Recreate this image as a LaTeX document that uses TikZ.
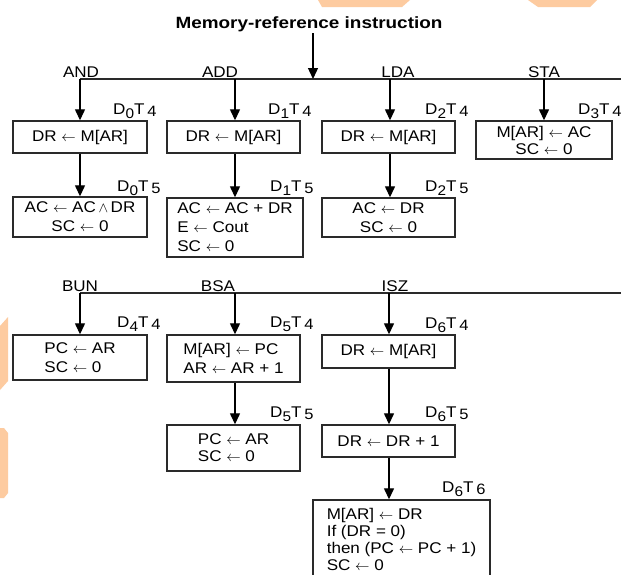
\documentclass[tikz,border=0pt]{standalone}
\usepackage{fontspec}
\setmainfont{Liberation Sans}[FakeStretch=1.1]
\newfontfamily\titlef{Liberation Sans}[FakeStretch=1.16]
\usetikzlibrary{arrows.meta}
\definecolor{wm}{HTML}{FDCBA0}
\definecolor{ln}{HTML}{2A2A2A}
\newcommand{\wedgech}{\ensuremath{\wedge}}
\newcommand{\lar}{\ensuremath{\leftarrow}}
\newcommand{\dtl}[2]{D\raisebox{-4pt}{\fontsize{14}{14}\selectfont #1}T\hspace{3pt}\raisebox{-2.5pt}{\fontsize{15}{15}\selectfont #2}}
\tikzset{
  box/.style={draw=ln, line width=1.4pt, inner sep=0pt, align=center, text=black,
              font=\fontsize{15.5}{19}\selectfont},
  boxl/.style={box, align=left},
  boxs/.style={box, align=left, font=\fontsize{15.5}{17}\selectfont},
  lbl/.style={anchor=base west, inner sep=0pt, font=\fontsize{15.5}{15.5}\selectfont},
  opl/.style={anchor=base, inner sep=0pt, font=\fontsize{15.5}{15.5}\selectfont},
  bus/.style={draw=ln, line width=1.3pt},
  arr/.style={draw=black, line width=1.3pt, -{Triangle[width=10pt,length=11pt]}},
  wmark/.style={fill=wm, draw=none}
}
\begin{document}
\begin{tikzpicture}[x=1pt,y=-1pt]
\useasboundingbox (0,0) rectangle (621,574);
\clip (0,0) rectangle (621,574);
\fill[white] (0,0) rectangle (621,574);
% watermark fragments
\fill[wmark] (318,0) -- (410,0) -- (402,7) -- (322,7) -- cycle;
\fill[wmark] (528,0) -- (597,0) -- (590,7) -- (538,7) -- cycle;
\fill[wmark] (0,326) -- (8,317) -- (8,381) -- (0,390) -- cycle;
\fill[wmark] (0,428) -- (4,428) -- (8,433) -- (8,493) -- (4,498) -- (0,498) -- cycle;

% title
\node[anchor=base, inner sep=0pt, font=\titlef\bfseries\fontsize{16.3}{18}\selectfont] (title) at (309,28) {Memory-reference instruction};

% first bus
\coordinate (h1l) at (80,79);
\coordinate (h1r) at (621,79);
\coordinate (h1t) at (313,79);
\coordinate (t0) at (313,33);
\draw[bus] (h1l) -- (h1r);
\draw[arr] (t0) -- (h1t);

\node[opl] (opand) at (81,77) {AND};
\node[opl] (opadd) at (220,77) {ADD};
\node[opl] (oplda) at (398,77) {LDA};
\node[opl] (opsta) at (544,77) {STA};

\coordinate (b0) at (80,79);
\coordinate (b1) at (235,79);
\coordinate (b2) at (390,79);
\coordinate (b3) at (544,79);

% row 1 boxes
\node[box, minimum width=134pt, minimum height=32pt] (a1) at (80,137) {DR \lar{} M[AR]};
\node[box, minimum width=133pt, minimum height=32pt] (d1) at (233.5,137) {DR \lar{} M[AR]};
\node[box, minimum width=133pt, minimum height=32pt] (l1) at (388.5,137) {DR \lar{} M[AR]};
\node[box, minimum width=136pt, minimum height=38pt, font=\fontsize{15.5}{17}\selectfont] (s1) at (544,140) {M[AR] \lar{} AC\\SC \lar{} 0};

\node[box, minimum width=134pt, minimum height=40pt] (a2) at (80,217) {AC \lar{} AC\,\wedgech\,DR\\SC \lar{} 0};
\node[boxl, minimum width=136pt, minimum height=59pt] (d2) at (235,227.5) {AC \lar{} AC + DR\\E \lar{} Cout\\SC \lar{} 0};
\node[box, minimum width=133pt, minimum height=39pt] (l2) at (388.5,217.5) {AC \lar{} DR\\SC \lar{} 0};

\draw[arr] (b0) -- (b0 |- a1.north);
\draw[arr] (b1) -- (b1 |- d1.north);
\draw[arr] (b2) -- (b2 |- l1.north);
\draw[arr] (b3) -- (b3 |- s1.north);
\draw[arr] (b0 |- a1.south) -- (b0 |- a2.north);
\draw[arr] (b1 |- d1.south) -- (b1 |- d2.north);
\draw[arr] (b2 |- l1.south) -- (b2 |- l2.north);

\node[lbl] (ta1) at (113,114) {\dtl{0}{4}};
\node[lbl] (td1) at (268,114) {\dtl{1}{4}};
\node[lbl] (tl1) at (425,114) {\dtl{2}{4}};
\node[lbl] (ts1) at (578,114) {\dtl{3}{4}};
\node[lbl] (ta2) at (117,191) {\dtl{0}{5}};
\node[lbl] (td2) at (270,191) {\dtl{1}{5}};
\node[lbl] (tl2) at (425,191) {\dtl{2}{5}};

% second bus
\coordinate (h2l) at (80,293);
\coordinate (h2r) at (621,293);
\draw[bus] (h2l) -- (h2r);

\node[opl] (opbun) at (80,291) {BUN};
\node[opl] (opbsa) at (218,291) {BSA};
\node[opl] (opisz) at (395,291) {ISZ};

\coordinate (c0) at (80,293);
\coordinate (c1) at (235,293);
\coordinate (c2) at (389,293);

\node[boxl, minimum width=134pt, minimum height=45pt] (u1) at (80,357.5) {PC \lar{} AR\\SC \lar{} 0};
\node[boxl, minimum width=133pt, minimum height=47pt] (s2a) at (233.5,358.5) {M[AR] \lar{} PC\\AR \lar{} AR + 1};
\node[boxs, minimum width=133pt, minimum height=46pt] (s2b) at (233.5,448) {PC \lar{} AR\\SC \lar{} 0};
\node[box, minimum width=133pt, minimum height=33pt] (z1) at (388.5,351.5) {DR \lar{} M[AR]};
\node[box, minimum width=133pt, minimum height=32pt] (z2) at (388.5,441) {DR \lar{} DR + 1};
\node[boxs, minimum width=177pt, minimum height=78pt] (z3) at (401.5,539) {M[AR] \lar{} DR\\If (DR = 0)\\then (PC \lar{} PC + 1)\\SC \lar{} 0};

\draw[arr] (c0) -- (c0 |- u1.north);
\draw[arr] (c1) -- (c1 |- s2a.north);
\draw[arr] (c2) -- (c2 |- z1.north);
\draw[arr] (c1 |- s2a.south) -- (c1 |- s2b.north);
\draw[arr] (c2 |- z1.south) -- (c2 |- z2.north);
\draw[arr] (c2 |- z2.south) -- (c2 |- z3.north);

\node[lbl] (tu1) at (117,327) {\dtl{4}{4}};
\node[lbl] (ts2a) at (270,327) {\dtl{5}{4}};
\node[lbl] (tz1) at (425,328) {\dtl{6}{4}};
\node[lbl] (ts2b) at (270,417) {\dtl{5}{5}};
\node[lbl] (tz2) at (425,417) {\dtl{6}{5}};
\node[lbl] (tz3) at (442,492) {\dtl{6}{6}};
\end{tikzpicture}
\end{document}
